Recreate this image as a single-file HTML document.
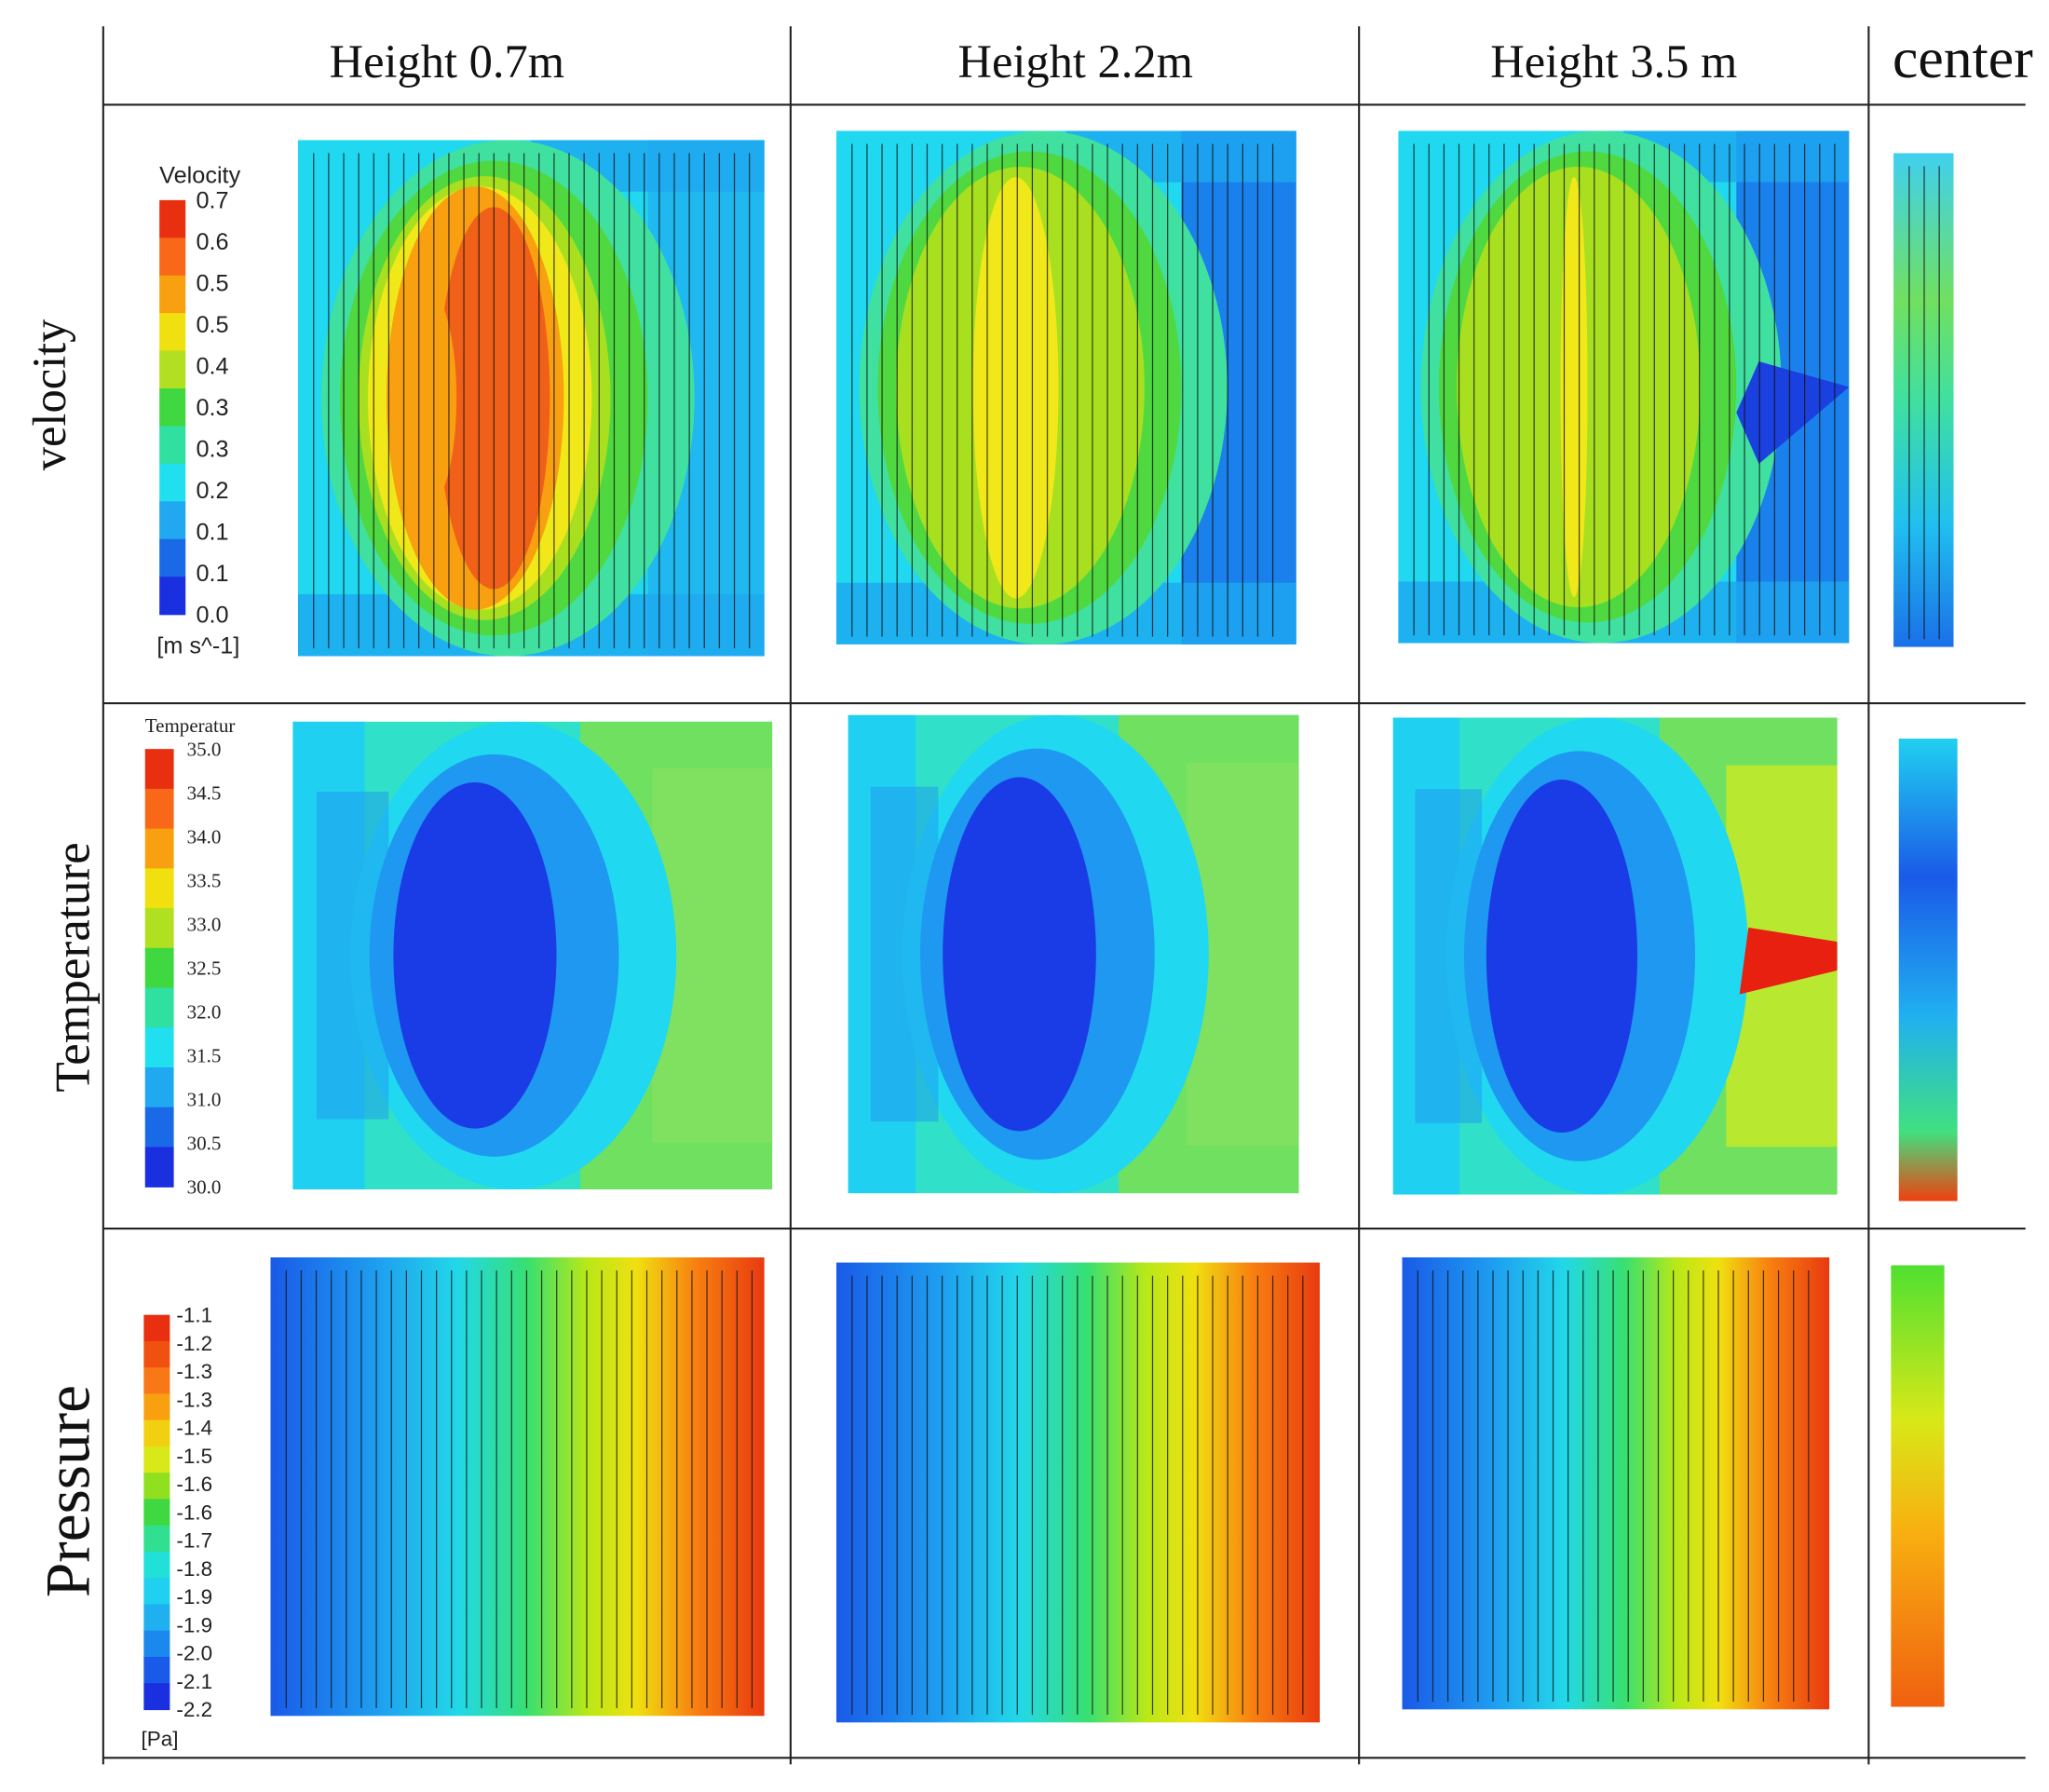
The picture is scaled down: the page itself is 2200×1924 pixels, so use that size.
<!DOCTYPE html>
<html><head><meta charset="utf-8">
<style>
html,body{margin:0;padding:0;background:#fff;}
svg{display:block;}
text{font-family:"Liberation Serif",serif;}
.sans{font-family:"Liberation Sans",sans-serif;}
</style></head>
<body>
<svg id="fig" width="2200" height="1924" viewBox="0 0 1568 1371" xmlns="http://www.w3.org/2000/svg">
<defs>
<linearGradient id="pgrad" x1="0" x2="1" y1="0" y2="0">
<stop offset="0" stop-color="#1a5ae8"/><stop offset="0.22" stop-color="#1ea0f0"/><stop offset="0.38" stop-color="#22d8e8"/><stop offset="0.52" stop-color="#38e070"/><stop offset="0.64" stop-color="#b8e818"/><stop offset="0.74" stop-color="#f0e010"/><stop offset="0.86" stop-color="#f88010"/><stop offset="1" stop-color="#e83a10"/>
</linearGradient>
<linearGradient id="pcgrad" x1="0" x2="0" y1="0" y2="1">
<stop offset="0" stop-color="#50e030"/><stop offset="0.35" stop-color="#d8e818"/><stop offset="0.6" stop-color="#f8b010"/><stop offset="1" stop-color="#f06010"/>
</linearGradient>
<linearGradient id="vcgrad" x1="0" x2="0" y1="0" y2="1">
<stop offset="0" stop-color="#40d0f0"/><stop offset="0.3" stop-color="#70e060"/><stop offset="0.5" stop-color="#40e0a0"/><stop offset="0.75" stop-color="#20c0f0"/><stop offset="1" stop-color="#1a70e8"/>
</linearGradient>
<linearGradient id="tcgrad" x1="0" x2="0" y1="0" y2="1">
<stop offset="0" stop-color="#20d0f0"/><stop offset="0.3" stop-color="#1a5ae8"/><stop offset="0.6" stop-color="#20b0f0"/><stop offset="0.85" stop-color="#40e080"/><stop offset="1" stop-color="#f04010"/>
</linearGradient>
</defs>
</svg>
<script>
const NS="http://www.w3.org/2000/svg";
const svg=document.getElementById('fig');
// data arrays
const columnHeaders=["Height 0.7m","Height 2.2m","Height 3.5 m","center"];
const rowLabels=["velocity","Temperature","Pressure"];
const velocityTicks=["0.7","0.6","0.5","0.5","0.4","0.3","0.3","0.2","0.1","0.1","0.0"];
const temperatureTicks=["35.0","34.5","34.0","33.5","33.0","32.5","32.0","31.5","31.0","30.5","30.0"];
const pressureTicks=["-1.1","-1.2","-1.3","-1.3","-1.4","-1.5","-1.6","-1.6","-1.7","-1.8","-1.9","-1.9","-2.0","-2.1","-2.2"];
const jet=["#e83010","#f86818","#f8a010","#f0e010","#b0e020","#40d840","#30e0a0","#20e0f0","#20a8f0","#1a6ae8","#1a30e0"];
const jet15=["#e83010","#f05010","#f87818","#f8a010","#f0d010","#d8e818","#90e020","#40d840","#30e090","#20e0d8","#20d0f0","#20b0f0","#1a88ec","#1a5ae8","#1a30e0"];

function el(tag,attrs,parent){const e=document.createElementNS(NS,tag);for(const k in attrs)e.setAttribute(k,attrs[k]);(parent||svg).appendChild(e);return e;}

const gv=[79,605,1040,1430], gh=[80,538,940,1345];
gv.forEach(x=>{const l=el('line',{x1:x,y1:20,x2:x,y2:1350,stroke:'#222','stroke-width':1.5});

});
gh.forEach(y=>{const l=el('line',{x1:79,y1:y,x2:1550,y2:y,stroke:'#222','stroke-width':1.5});

});

const hx=[342,823,1235,1502],hs=[36,36,36,44];
columnHeaders.forEach((h,i)=>{const t=el('text',{x:hx[i],y:59,'font-size':hs[i],'text-anchor':'middle',fill:'#111'});t.textContent=h;

});
const ry=[302,740,1141],rs=[36,38,48],rx=[50,68,68];
rowLabels.forEach((r,i)=>{const t=el('text',{x:0,y:0,'font-size':rs[i],'text-anchor':'middle',fill:'#111',transform:`translate(${rx[i]},${ry[i]}) rotate(-90)`});t.textContent=r;

});

function colorbar(x,y,w,h,colors,ticks,title,unit,tx,fs,titleY,unitY,sans){
  const g=el('g',{});
  
  
  const n=colors.length, sh=h/n;
  colors.forEach((c,i)=>el('rect',{x:x,y:y+i*sh,width:w,height:sh+0.5,fill:c},g));
  ticks.forEach((t,i)=>{const ty=y+i*h/(ticks.length-1);
    const tt=el('text',{x:tx,y:ty+fs*0.35,'font-size':fs,fill:'#222',class:sans?'sans':''},g);tt.textContent=t;
    
    });
  if(title){const t=el('text',{x:x,y:titleY,'font-size':fs,fill:'#222',class:sans?'sans':''},g);t.textContent=title;}
  if(unit){const t=el('text',{x:x-2,y:unitY,'font-size':fs,fill:'#222',class:'sans'},g);t.textContent=unit;}
}
colorbar(122,153,20,317,jet,velocityTicks,"Velocity","[m s^-1]",150,18,140,500,true);
colorbar(111,573,22,335,jet,temperatureTicks,"Temperatur",null,143,15,560,0,false);
colorbar(110,1006,20,302,jet15,pressureTicks,null,"[Pa]",135,16,0,1336,true);

let cid=0;
function panel(x,y,w,h,name,draw,lines){
  const id='clip'+(cid++);
  const cp=el('clipPath',{id:id});el('rect',{x:x,y:y,width:w,height:h},cp);
  const g=el('g',{'clip-path':`url(#${id})`});
  
  
  draw(g,x,y,w,h);
  if(lines){for(let lx=x+12;lx<x+w-8;lx+=11.5){el('line',{x1:lx,y1:y+10,x2:lx,y2:y+h-6,stroke:'#111','stroke-width':0.9,opacity:0.75},g);}}
}
function E(g,cx,cy,rx,ry,f,op){el('ellipse',{cx,cy,rx,ry,fill:f,opacity:op||1},g);}
function R(g,x,y,w,h,f,op){el('rect',{x,y,width:w,height:h,fill:f,opacity:op||1},g);}

function vel(scale,right){return (g,x,y,w,h)=>{
  const cy=y+h/2;
  R(g,x,y,w,h,'#20d8f0');
  R(g,x+w*0.75,y,w*0.25,h,right);
  R(g,x,y+h*0.88,w,h*0.12,'#1ea8f0',0.8);
  R(g,x+w*0.5,y,w*0.5,h*0.1,'#1ea8f0',0.8);
  E(g,x+w*0.45,cy,w*0.4,h*0.5,'#40e0a0');
  E(g,x+w*0.42,cy,w*0.33,h*0.46,'#50d840');
  E(g,x+w*0.40,cy,w*0.27,h*0.43,'#a8e020');
  E(g,x+w*0.39,cy,w*0.21*scale+w*0.03,h*0.41,'#f0e818');
  if(scale>0.5){E(g,x+w*0.38,cy,w*0.19*scale,h*0.41*scale,'#f8a010');
  E(g,x+w*0.42,cy,w*0.12*scale,h*0.37*scale,'#f06018');
  E(g,x+w*0.27,cy,w*0.07,h*0.22,'#f8a010');}
};}
panel(228,107,357,395,'velocity-contour-h07',vel(1,'#20b8f0'),true);
panel(640,100,352,393,'velocity-contour-h22',vel(0.3,'#1a80ec'),true);
panel(1070,100,345,392,'velocity-contour-h35',(g,x,y,w,h)=>{vel(0,'#1a80ec')(g,x,y,w,h);
  el('polygon',{points:`${x+w*0.8},${y+h*0.45} ${x+w},${y+h*0.5} ${x+w*0.8},${y+h*0.65} ${x+w*0.75},${y+h*0.55}`,fill:'#1a40e0'},g);},true);
panel(1449,117,46,378,'velocity-center',(g,x,y,w,h)=>{R(g,x,y,w,h,'url(#vcgrad)');},true);

function temp(hot){return (g,x,y,w,h)=>{
  const cy=y+h/2;
  R(g,x,y,w,h,'#30e0c8');
  R(g,x+w*0.6,y,w*0.4,h,'#70e060');
  R(g,x+w*0.75,y+h*0.1,w*0.25,h*0.8,hot?'#b8e830':'#80e060');
  R(g,x,y,w*0.15,h,'#20d0f0');
  E(g,x+w*0.46,cy,w*0.34,h*0.5,'#20d8f0');
  E(g,x+w*0.42,cy,w*0.26,h*0.43,'#1e98f0');
  E(g,x+w*0.38,cy,w*0.17,h*0.37,'#1a3ce6');
  R(g,x+w*0.05,y+h*0.15,w*0.15,h*0.7,'#1e98f0',0.5);
  if(hot) el('polygon',{points:`${x+w},${y+h*0.47} ${x+w*0.8},${y+h*0.44} ${x+w*0.78},${y+h*0.58} ${x+w},${y+h*0.53}`,fill:'#e82010'},g);
};}
panel(224,552,367,358,'temperature-contour-h07',temp(false),false);
panel(649,547,345,366,'temperature-contour-h22',temp(false),false);
panel(1066,549,340,365,'temperature-contour-h35',temp(true),false);
panel(1453,565,45,354,'temperature-center',(g,x,y,w,h)=>{R(g,x,y,w,h,'url(#tcgrad)');},false);

panel(207,962,378,351,'pressure-contour-h07',(g,x,y,w,h)=>{R(g,x,y,w,h,'url(#pgrad)');},true);
panel(640,966,370,352,'pressure-contour-h22',(g,x,y,w,h)=>{R(g,x,y,w,h,'url(#pgrad)');},true);
panel(1073,962,327,346,'pressure-contour-h35',(g,x,y,w,h)=>{R(g,x,y,w,h,'url(#pgrad)');},true);
panel(1447,968,41,338,'pressure-center',(g,x,y,w,h)=>{R(g,x,y,w,h,'url(#pcgrad)');},false);
</script>
</body></html>
